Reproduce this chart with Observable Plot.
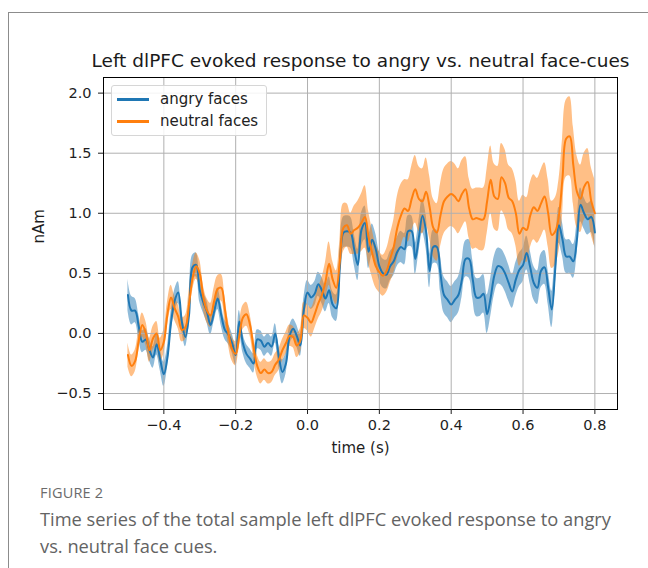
<!DOCTYPE html>
<html>
<head>
<meta charset="utf-8">
<script src="https://cdn.jsdelivr.net/npm/d3@7"></script>
<script src="https://cdn.jsdelivr.net/npm/@observablehq/plot@0.6"></script>
<style>
  html, body { margin: 0; padding: 0; background: #fff; }
  body { width: 648px; height: 568px; position: relative; overflow: hidden; }
  #card { position: absolute; left: 8px; top: 12px; width: 700px; height: 700px; border: 1px solid #8c8c8c; box-sizing: border-box; }
  #chart { position: absolute; left: 0; top: 0; }
  #legend { position: absolute; left: 111px; top: 85px; width: 156px; height: 51px; box-sizing: border-box;
    border: 1px solid #d6d6d6; border-radius: 3px; background: rgba(255,255,255,0.85);
    font-family: "DejaVu Sans", sans-serif; font-size: 15px; color: #222; }
  .row { position: absolute; left: 0; height: 20px; line-height: 20px; }
  .row .sw { position: absolute; left: 5px; top: 9px; width: 32px; height: 2.5px; }
  .row .lb { position: absolute; left: 48px; top: 0; white-space: nowrap; }
  #fig { position: absolute; left: 40px; top: 483px; font-family: "Open Sans", sans-serif; font-size: 14.5px; color: #6b6b6b; letter-spacing: 0.2px; }
  #cap { position: absolute; left: 40px; top: 505px; width: 610px; font-family: "Open Sans", sans-serif; font-size: 18.3px; line-height: 27px; color: #636363; }
</style>
</head>
<body>
<div id="card"></div>
<div id="chart"></div>
<div id="legend"></div>
<div id="fig">FIGURE 2</div>
<div id="cap">Time series of the total sample left dlPFC evoked response to angry<br>vs. neutral face cues.</div>
<script>
const titleText = "Left dlPFC evoked response to angry vs. neutral face-cues";
const xLabel = "time (s)";
const yLabel = "nAm";
const seriesNames = ["angry faces", "neutral faces"];
const seriesColors = ["#1f77b4", "#ff7f0e"];
const xTicks = [-0.4, -0.2, 0.0, 0.2, 0.4, 0.6, 0.8];
const yTicks = [-0.5, 0.0, 0.5, 1.0, 1.5, 2.0];

const time = [
-0.50,-0.49,-0.48,-0.47,-0.46,-0.45,-0.44,-0.43,-0.42,-0.41,
-0.40,-0.39,-0.38,-0.37,-0.36,-0.35,-0.34,-0.33,-0.32,-0.31,
-0.30,-0.29,-0.28,-0.27,-0.26,-0.25,-0.24,-0.23,-0.22,-0.21,
-0.20,-0.19,-0.18,-0.17,-0.16,-0.15,-0.14,-0.13,-0.12,-0.11,
-0.10,-0.09,-0.08,-0.07,-0.06,-0.05,-0.04,-0.03,-0.02,-0.01,
0.00,0.01,0.02,0.03,0.04,0.05,0.06,0.07,0.08,0.09,
0.10,0.11,0.12,0.13,0.14,0.15,0.16,0.17,0.18,0.19,
0.20,0.21,0.22,0.23,0.24,0.25,0.26,0.27,0.28,0.29,
0.30,0.31,0.32,0.33,0.34,0.35,0.36,0.37,0.38,0.39,
0.40,0.41,0.42,0.43,0.44,0.45,0.46,0.47,0.48,0.49,
0.50,0.51,0.52,0.53,0.54,0.55,0.56,0.57,0.58,0.59,
0.60,0.61,0.62,0.63,0.64,0.65,0.66,0.67,0.68,0.69,
0.70,0.71,0.72,0.73,0.74,0.75,0.76,0.77,0.78,0.79,0.80];

const angryMean = [
0.32,0.19,0.19,0.06,-0.07,-0.05,-0.14,-0.20,-0.09,-0.22,
-0.34,-0.20,0.09,0.27,0.34,0.10,-0.03,0.15,0.55,0.57,
0.36,0.26,0.18,0.07,0.18,0.29,0.15,0.03,-0.01,-0.08,
-0.18,0.10,-0.08,-0.17,-0.21,-0.25,-0.05,-0.06,-0.11,-0.08,
-0.11,0.00,-0.19,-0.32,-0.25,-0.02,0.04,-0.02,-0.10,0.20,
0.34,0.30,0.33,0.41,0.36,0.29,0.36,0.24,0.21,0.55,
0.84,0.85,0.84,0.70,0.57,0.86,0.92,0.68,0.78,0.70,
0.56,0.50,0.49,0.56,0.60,0.68,0.72,0.70,0.85,0.85,
0.62,0.80,0.98,0.85,0.52,0.72,0.72,0.50,0.32,0.28,
0.24,0.28,0.32,0.45,0.62,0.62,0.45,0.30,0.30,0.33,
0.16,0.30,0.48,0.56,0.55,0.50,0.42,0.35,0.45,0.53,
0.57,0.67,0.55,0.42,0.38,0.52,0.55,0.38,0.20,0.55,
0.90,0.78,0.64,0.64,0.60,0.78,1.07,1.00,0.95,0.97,0.84];

const angrySem = [
0.13,0.12,0.10,0.10,0.09,0.09,0.09,0.09,0.09,0.09,
0.10,0.09,0.09,0.09,0.09,0.08,0.08,0.09,0.10,0.10,
0.10,0.09,0.09,0.08,0.08,0.09,0.09,0.08,0.08,0.08,
0.08,0.09,0.08,0.08,0.08,0.08,0.08,0.08,0.08,0.08,
0.08,0.08,0.09,0.10,0.09,0.08,0.08,0.09,0.09,0.10,
0.10,0.10,0.10,0.10,0.11,0.11,0.11,0.11,0.11,0.12,
0.13,0.13,0.13,0.13,0.13,0.14,0.14,0.14,0.13,0.13,
0.12,0.12,0.12,0.12,0.12,0.12,0.13,0.13,0.13,0.13,
0.13,0.13,0.14,0.14,0.14,0.14,0.14,0.15,0.15,0.15,
0.15,0.15,0.15,0.15,0.15,0.16,0.16,0.16,0.16,0.16,
0.16,0.16,0.16,0.15,0.15,0.15,0.15,0.14,0.14,0.14,
0.14,0.14,0.14,0.14,0.14,0.14,0.14,0.14,0.15,0.15,
0.15,0.14,0.14,0.14,0.14,0.14,0.14,0.13,0.13,0.13,0.13];

const neutralMean = [
-0.18,-0.27,-0.23,-0.06,0.07,0.00,-0.14,-0.04,0.00,-0.14,
-0.07,0.16,0.30,0.21,0.14,0.03,0.05,0.24,0.46,0.56,
0.50,0.30,0.19,0.15,0.27,0.37,0.38,0.20,0.00,-0.13,
-0.17,-0.02,0.13,0.16,0.07,-0.12,-0.27,-0.33,-0.30,-0.33,
-0.32,-0.26,-0.22,-0.14,-0.08,-0.02,-0.03,-0.10,-0.06,0.15,
0.13,0.09,0.16,0.25,0.32,0.43,0.58,0.45,0.38,0.60,
0.88,0.90,0.83,0.86,0.88,0.92,0.97,0.80,0.67,0.56,
0.51,0.48,0.52,0.62,0.72,0.88,0.98,1.04,1.02,1.12,
1.20,1.12,1.10,1.18,1.05,0.88,0.84,0.98,1.10,1.14,
1.16,1.14,1.10,1.16,1.20,1.04,0.95,0.96,0.95,0.95,
1.10,1.28,1.14,1.12,1.30,1.25,1.13,1.10,1.00,0.83,
0.88,0.86,0.98,1.05,1.02,1.08,1.14,1.00,0.82,0.85,
0.98,1.30,1.62,1.64,1.40,1.18,1.12,1.22,1.26,1.10,1.00];

const neutralSem = [
0.10,0.09,0.09,0.09,0.10,0.10,0.10,0.10,0.10,0.10,
0.10,0.10,0.10,0.10,0.10,0.10,0.10,0.11,0.11,0.11,
0.11,0.10,0.10,0.10,0.11,0.11,0.11,0.10,0.10,0.10,
0.10,0.10,0.10,0.10,0.09,0.09,0.09,0.09,0.09,0.09,
0.09,0.09,0.09,0.09,0.09,0.09,0.09,0.10,0.10,0.11,
0.11,0.12,0.12,0.13,0.14,0.16,0.18,0.15,0.14,0.17,
0.20,0.18,0.17,0.20,0.22,0.24,0.26,0.22,0.20,0.18,
0.17,0.17,0.18,0.20,0.22,0.26,0.26,0.24,0.26,0.27,
0.28,0.27,0.27,0.28,0.26,0.24,0.24,0.26,0.27,0.27,
0.27,0.27,0.27,0.28,0.27,0.25,0.25,0.25,0.26,0.26,
0.27,0.28,0.27,0.27,0.28,0.28,0.27,0.27,0.27,0.27,
0.27,0.27,0.27,0.27,0.27,0.28,0.28,0.28,0.28,0.28,
0.30,0.32,0.32,0.33,0.32,0.30,0.28,0.28,0.28,0.28,0.28];

const rows = [];
time.forEach((t, i) => {
  rows.push({t, series: seriesNames[0], mean: angryMean[i], lo: angryMean[i] - angrySem[i], hi: angryMean[i] + angrySem[i]});
});
time.forEach((t, i) => {
  rows.push({t, series: seriesNames[1], mean: neutralMean[i], lo: neutralMean[i] - neutralSem[i], hi: neutralMean[i] + neutralSem[i]});
});

const fmt = d3.format(".1f");
const W = 648, H = 470;
const chart = Plot.plot({
  width: W, height: H,
  marginLeft: 103, marginRight: 31, marginTop: 77, marginBottom: 61,
  style: {fontFamily: "DejaVu Sans, sans-serif", fontSize: "14.5px", color: "#1e1e1e", background: "transparent", overflow: "visible"},
  x: {domain: [-0.568, 0.863]},
  y: {domain: [-0.633, 2.13]},
  color: {domain: seriesNames, range: seriesColors},
  marks: [
    Plot.areaY(rows, {x: "t", y1: "lo", y2: "hi", z: "series", fill: "series", fillOpacity: 0.5, curve: "catmull-rom"}),
    Plot.gridX(xTicks, {stroke: "#b0b0b0", strokeOpacity: 1, strokeWidth: 1}),
    Plot.gridY(yTicks, {stroke: "#b0b0b0", strokeOpacity: 1, strokeWidth: 1}),
    Plot.lineY(rows, {x: "t", y: "mean", z: "series", stroke: "series", strokeWidth: 2, curve: "catmull-rom"}),
    Plot.frame({stroke: "#000", strokeWidth: 1}),
    Plot.axisX(xTicks, {tickFormat: fmt, tickSize: 5, tickPadding: 5, fontSize: 14.5, label: null}),
    Plot.axisY(yTicks, {tickFormat: fmt, tickSize: 5, tickPadding: 7, fontSize: 14.5, label: null}),
    Plot.text([titleText], {frameAnchor: "top", dy: -16, fontSize: 18.5, fill: "#1a1a1a", lineAnchor: "middle"}),
    Plot.text([xLabel], {frameAnchor: "bottom", dy: 39, fontSize: 15, fill: "#1e1e1e", lineAnchor: "middle"}),
    Plot.text([yLabel], {frameAnchor: "left", dx: -64, rotate: -90, fontSize: 15, fill: "#1e1e1e", lineAnchor: "middle"})
  ]
});
document.getElementById("chart").appendChild(chart);

const legend = document.getElementById("legend");
seriesNames.forEach((name, i) => {
  const row = document.createElement("div");
  row.className = "row";
  row.style.top = (3 + i * 22) + "px";
  row.innerHTML = `<span class="sw" style="background:${seriesColors[i]}"></span><span class="lb">${name}</span>`;
  legend.appendChild(row);
});
</script>
</body>
</html>
